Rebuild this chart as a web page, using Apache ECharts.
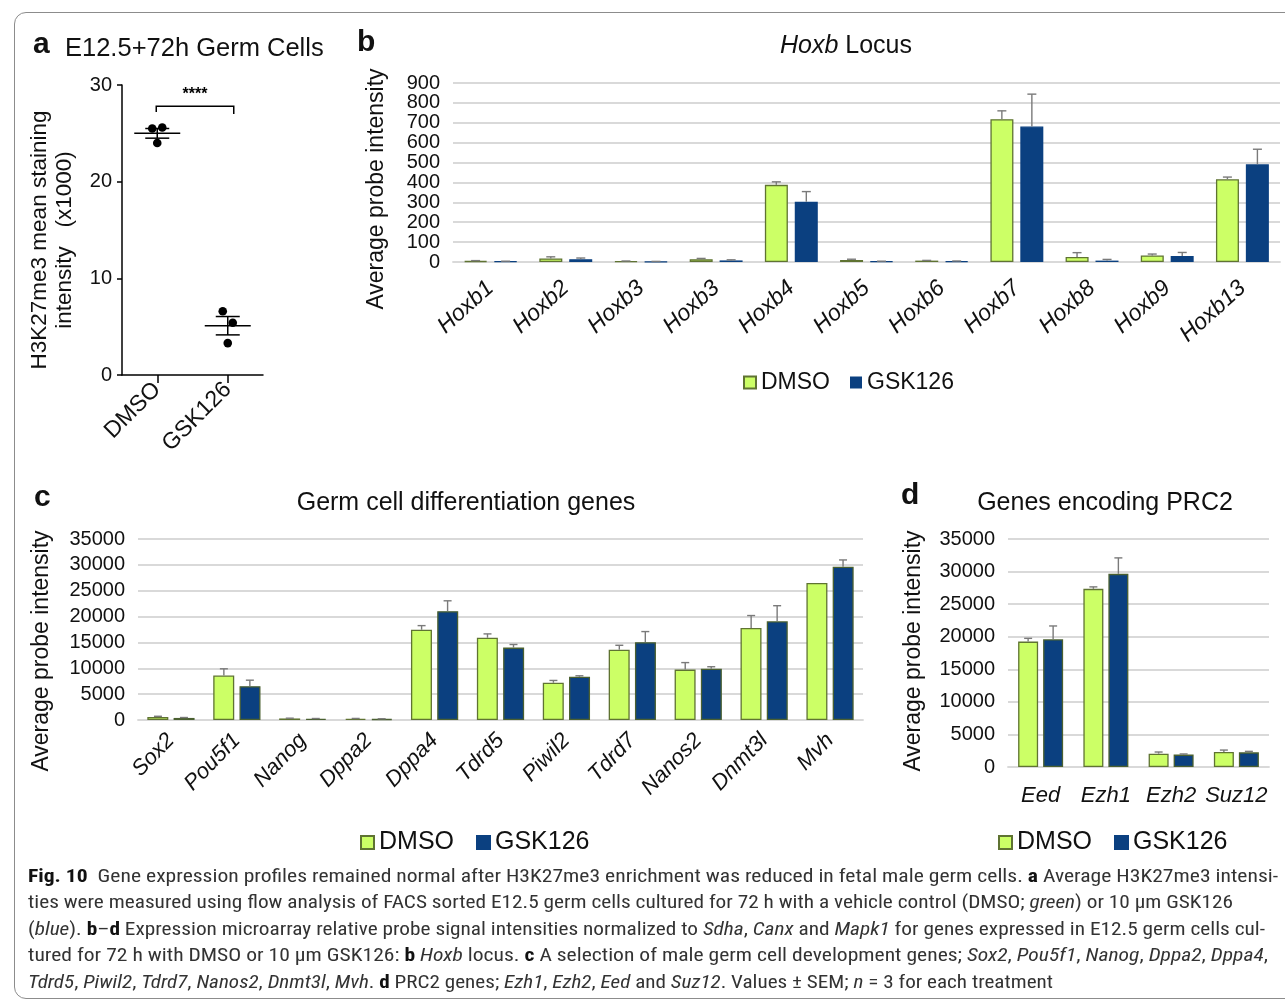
<!DOCTYPE html>
<html>
<head>
<meta charset="utf-8">
<script src="https://cdn.jsdelivr.net/npm/echarts/dist/echarts.min.js"></script>
<style>
  html, body { margin:0; padding:0; background:#fff; }
  #wrap { position:relative; width:1285px; height:1002px; overflow:hidden; }
  #frame { position:absolute; left:14px; top:12px; width:1290px; height:987px; border:1px solid #8c8c8c; border-radius:12px; box-sizing:border-box; }
  #chart { position:absolute; left:0; top:0; width:1285px; height:1002px; }
  .cap { position:absolute; left:28px; white-space:nowrap; font-family:"Liberation Sans Narrow","Roboto Condensed","Liberation Sans",sans-serif; font-size:18px; line-height:22px; color:#333; transform-origin:0 50%; }
  .cap b { font-weight:bold; color:#111; }
</style>
</head>
<body>
<div id="wrap">
  <div id="frame"></div>
  <div id="chart"></div>
  <div class="cap" data-end="1278" style="top:865px"><b>Fig. 10</b>&nbsp; Gene expression profiles remained normal after H3K27me3 enrichment was reduced in fetal male germ cells. <b>a</b> Average H3K27me3 intensi-</div>
  <div class="cap" data-end="1233" style="top:891px">ties were measured using flow analysis of FACS sorted E12.5 germ cells cultured for 72 h with a vehicle control (DMSO; <i>green</i>) or 10 µm GSK126</div>
  <div class="cap" data-end="1265" style="top:918px">(<i>blue</i>). <b>b</b>–<b>d</b> Expression microarray relative probe signal intensities normalized to <i>Sdha</i>, <i>Canx</i> and <i>Mapk1</i> for genes expressed in E12.5 germ cells cul-</div>
  <div class="cap" data-end="1268" style="top:944px">tured for 72 h with DMSO or 10 µm GSK126: <b>b</b> <i>Hoxb</i> locus. <b>c</b> A selection of male germ cell development genes; <i>Sox2</i>, <i>Pou5f1</i>, <i>Nanog</i>, <i>Dppa2</i>, <i>Dppa4</i>,</div>
  <div class="cap" data-end="1053" style="top:971px"><i>Tdrd5</i>, <i>Piwil2</i>, <i>Tdrd7</i>, <i>Nanos2</i>, <i>Dnmt3l</i>, <i>Mvh</i>. <b>d</b> PRC2 genes; <i>Ezh1</i>, <i>Ezh2</i>, <i>Eed</i> and <i>Suz12</i>. Values ± SEM; <i>n</i> = 3 for each treatment</div>
</div>
<script>
// ---------- DATA ----------
// Panel a
const groupsA = ['DMSO', 'GSK126'];
const pointsA_DMSO = [25.5, 25.6, 24.0];
const pointsA_GSK = [6.6, 5.4, 3.3];
const meanA = [25.0, 5.1];
const semA = [0.5, 0.95];
const sigBracketA = { from: 0, to: 1, top: 27.8, leftFoot: 27.2, rightFoot: 27.0, label: '****', labelY: 29.0 };
const yTicksA = { min: 0, max: 30, interval: 10 };

// Panel b — Hoxb locus
const hoxbGenes = ['Hoxb1', 'Hoxb2', 'Hoxb3', 'Hoxb3', 'Hoxb4', 'Hoxb5', 'Hoxb6', 'Hoxb7', 'Hoxb8', 'Hoxb9', 'Hoxb13'];
const hoxbDMSO    = [5, 18, 4, 14, 388, 10, 7, 718, 25, 33, 416];
const hoxbDMSOErr = [2, 8, 1, 4, 15, 4, 1, 42, 22, 7, 11];
const hoxbGSK     = [3, 14, 2, 8, 303, 3, 4, 681, 7, 30, 491];
const hoxbGSKErr  = [1, 6, 1, 3, 51, 1, 1, 163, 6, 18, 76];
const yTicksB = { min: 0, max: 900, interval: 100 };

// Panel c — germ cell differentiation genes
const germGenes = ['Sox2', 'Pou5f1', 'Nanog', 'Dppa2', 'Dppa4', 'Tdrd5', 'Piwil2', 'Tdrd7', 'Nanos2', 'Dnmt3l', 'Mvh'];
const germDMSO    = [600, 8600, 300, 250, 17450, 15900, 7200, 13600, 9750, 17800, 26500];
const germDMSOErr = [120, 1300, 50, 50, 800, 750, 450, 850, 1350, 2400, 0];
const germGSK     = [400, 6550, 250, 200, 21050, 14000, 8350, 15050, 9900, 19100, 29650];
const germGSKErr  = [80, 1150, 40, 40, 2000, 600, 200, 2050, 400, 3000, 1300];
const yTicksC = { min: 0, max: 35000, interval: 5000 };

// Panel d — PRC2 genes
const prc2Genes = ['Eed', 'Ezh1', 'Ezh2', 'Suz12'];
const prc2DMSO    = [19250, 27350, 2050, 2300];
const prc2DMSOErr = [500, 300, 250, 300];
const prc2GSK     = [19600, 29650, 1900, 2250];
const prc2GSKErr  = [2050, 2450, 100, 150];
const yTicksD = { min: 0, max: 35000, interval: 5000 };

const seriesNames = ['DMSO', 'GSK126'];

// ---------- STYLE ----------
const FONT = 'Liberation Sans, Arial, sans-serif';
const GREEN = '#CCFF66', GREEN_BORDER = '#5f7332';
const BLUE = '#0b4080', BLUE_BORDER_C = '#4a6030';
const GRID_COLOR = '#d9d9d9';
const ERR_COLOR = '#7a7a7a';
const TXT = '#111';

const chart = echarts.init(document.getElementById('chart'), null, { renderer: 'canvas' });

function errSeries(ax, vals, errs, offset, capW) {
  return {
    type: 'custom', xAxisIndex: ax, yAxisIndex: ax, z: 5, silent: true,
    encode: { x: 0, y: [1, 2] },
    data: vals.map((v, i) => [i, v, v + errs[i]]),
    renderItem: function (params, api) {
      const v = api.value(1), t = api.value(2);
      if (!(t > v)) return null;
      const p0 = api.coord([api.value(0), v]);
      const p1 = api.coord([api.value(0), t]);
      const x = p0[0] + offset;
      const st = { stroke: ERR_COLOR, lineWidth: 1.4 };
      return { type: 'group', children: [
        { type: 'line', shape: { x1: x, y1: p0[1], x2: x, y2: p1[1] }, style: st },
        { type: 'line', shape: { x1: x - capW / 2, y1: p1[1], x2: x + capW / 2, y2: p1[1] }, style: st }
      ] };
    }
  };
}

function barSeries(ax, name, vals, width, gap, blueBorder) {
  const green = name === 'DMSO';
  return {
    type: 'bar', name: name, xAxisIndex: ax, yAxisIndex: ax, data: vals,
    barWidth: width, barGap: gap, z: 2,
    itemStyle: { color: green ? GREEN : BLUE, borderColor: green ? GREEN_BORDER : blueBorder, borderWidth: 1.3 }
  };
}

function valueAxis(grid, ticks, fs) {
  return {
    type: 'value', gridIndex: grid, min: ticks.min, max: ticks.max, interval: ticks.interval,
    axisLine: { show: false }, axisTick: { show: false },
    axisLabel: { color: TXT, fontSize: fs, fontFamily: FONT, margin: 13, formatter: v => String(v) },
    splitLine: { show: true, lineStyle: { color: GRID_COLOR, width: 1.8 } }
  };
}
function catAxis(grid, cats, rot, fs, margin, italic) {
  return {
    type: 'category', gridIndex: grid, data: cats,
    axisLine: { show: true, lineStyle: { color: GRID_COLOR, width: 1.8 } },
    axisTick: { show: false },
    axisLabel: { color: TXT, fontSize: fs, fontFamily: FONT, rotate: rot, margin: margin, fontStyle: italic ? 'italic' : 'normal', interval: 0 }
  };
}

// Panel a custom series
const jitter = [-5, 5, 0];
const pointsSeries = {
  type: 'custom', xAxisIndex: 0, yAxisIndex: 0, z: 5, silent: true,
  data: pointsA_DMSO.map((v, k) => [0, v, k]).concat(pointsA_GSK.map((v, k) => [1, v, k])),
  renderItem: function (params, api) {
    const p = api.coord([api.value(0), api.value(1)]);
    return { type: 'circle', shape: { cx: p[0] + jitter[api.value(2)], cy: p[1], r: 4.3 }, style: { fill: '#000' } };
  }
};
const meanSeries = {
  type: 'custom', xAxisIndex: 0, yAxisIndex: 0, z: 4, silent: true,
  data: meanA.map((m, i) => [i, m, m - semA[i], m + semA[i]]),
  renderItem: function (params, api) {
    const c = api.coord([api.value(0), api.value(1)]);
    const lo = api.coord([api.value(0), api.value(2)]);
    const hi = api.coord([api.value(0), api.value(3)]);
    const st = { stroke: '#000', lineWidth: 1.5 };
    return { type: 'group', children: [
      { type: 'line', shape: { x1: c[0] - 23, y1: c[1], x2: c[0] + 23, y2: c[1] }, style: st },
      { type: 'line', shape: { x1: c[0] - 12, y1: lo[1], x2: c[0] + 12, y2: lo[1] }, style: st },
      { type: 'line', shape: { x1: c[0] - 12, y1: hi[1], x2: c[0] + 12, y2: hi[1] }, style: st },
      { type: 'line', shape: { x1: c[0], y1: lo[1], x2: c[0], y2: hi[1] }, style: st }
    ] };
  }
};
const bracketSeries = {
  type: 'custom', xAxisIndex: 0, yAxisIndex: 0, z: 4, silent: true,
  data: [[sigBracketA.from, sigBracketA.to, sigBracketA.top, sigBracketA.leftFoot, sigBracketA.rightFoot, sigBracketA.labelY]],
  renderItem: function (params, api) {
    const a = api.coord([api.value(0), api.value(2)]);
    const b = api.coord([api.value(1), api.value(2)]);
    const af = api.coord([api.value(0), api.value(3)]);
    const bf = api.coord([api.value(1), api.value(4)]);
    const lab = api.coord([api.value(0), api.value(5)]);
    const xl = a[0] - 1, xr = b[0] + 6;
    return { type: 'group', children: [
      { type: 'polyline', shape: { points: [[xl, af[1]], [xl, a[1]], [xr, a[1]], [xr, bf[1]]] }, style: { stroke: '#000', lineWidth: 1.5, fill: null } },
      { type: 'text', style: { text: sigBracketA.label, x: (xl + xr) / 2, y: lab[1], align: 'center', verticalAlign: 'middle', font: 'bold 16px ' + FONT, fill: '#000' } }
    ] };
  }
};

const option = {
  animation: false,
  textStyle: { fontFamily: FONT },
  grid: [
    { left: 122, top: 85, width: 141, height: 290, outerBoundsMode: 'none' },
    { left: 453, top: 83, width: 827, height: 179, outerBoundsMode: 'none' },
    { left: 138, top: 539, width: 725, height: 181, outerBoundsMode: 'none' },
    { left: 1008, top: 539, width: 261, height: 228, outerBoundsMode: 'none' }
  ],
  xAxis: [
    {
      type: 'category', gridIndex: 0, data: groupsA,
      axisLine: { show: true, lineStyle: { color: '#000', width: 1.5 } },
      axisTick: { show: true, alignWithLabel: true, length: 8, lineStyle: { color: '#000', width: 1.5 } },
      axisLabel: { color: TXT, fontSize: 23, fontFamily: FONT, rotate: 45, margin: 11 }
    },
    catAxis(1, hoxbGenes, 42, 23, 23, true),
    catAxis(2, germGenes, 46, 22, 17, true),
    catAxis(3, prc2Genes, 0, 22, 18, true)
  ],
  yAxis: [
    {
      type: 'value', gridIndex: 0, min: yTicksA.min, max: yTicksA.max, interval: yTicksA.interval,
      axisLine: { show: true, lineStyle: { color: '#000', width: 1.5 } },
      axisTick: { show: true, length: 5, lineStyle: { color: '#000', width: 1.5 } },
      axisLabel: { color: TXT, fontSize: 20, fontFamily: FONT, margin: 10 },
      splitLine: { show: false }
    },
    valueAxis(1, yTicksB, 20),
    valueAxis(2, yTicksC, 20),
    valueAxis(3, yTicksD, 20)
  ],
  legend: [
    { data: [{ name: 'DMSO' }, { name: 'GSK126', itemStyle: { borderWidth: 0 } }], left: 738, top: 366, itemWidth: 12, itemHeight: 12, itemGap: 20, icon: 'rect',
      textStyle: { fontSize: 23, color: TXT, fontFamily: FONT }, selectedMode: false },
    { data: seriesNames, left: 355, top: 825, itemWidth: 13, itemHeight: 13, itemGap: 22, icon: 'rect',
      textStyle: { fontSize: 25, color: TXT, fontFamily: FONT }, selectedMode: false },
    { data: seriesNames, left: 993, top: 825, itemWidth: 13, itemHeight: 13, itemGap: 22, icon: 'rect',
      textStyle: { fontSize: 25, color: TXT, fontFamily: FONT }, selectedMode: false }
  ],
  graphic: [
    { type: 'text', left: 33, top: 30, style: { text: 'a', font: 'bold 30px ' + FONT, fill: '#111' } },
    { type: 'text', left: 65, top: 36, style: { text: 'E12.5+72h Germ Cells', font: '25.5px ' + FONT, fill: '#111' } },
    { type: 'text', x: 52, y: 240, rotation: Math.PI / 2,
      style: { text: 'H3K27me3 mean staining\nintensity   (x1000)', font: '22.5px ' + FONT, fill: '#111', align: 'center', verticalAlign: 'middle', lineHeight: 25 } },

    { type: 'text', left: 357, top: 28, style: { text: 'b', font: 'bold 30px ' + FONT, fill: '#111' } },
    { type: 'text', x: 846, y: 46, style: { text: '{i|Hoxb} Locus', font: '25px ' + FONT, fill: '#111', align: 'center', verticalAlign: 'middle',
      rich: { i: { fontStyle: 'italic', fontSize: 25, fontFamily: FONT, fill: '#111' } } } },
    { type: 'text', x: 377, y: 189, rotation: Math.PI / 2,
      style: { text: 'Average probe intensity', font: '23px ' + FONT, fill: '#111', align: 'center', verticalAlign: 'middle' } },

    { type: 'text', left: 34, top: 483, style: { text: 'c', font: 'bold 30px ' + FONT, fill: '#111' } },
    { type: 'text', x: 466, y: 503, style: { text: 'Germ cell differentiation genes', font: '25px ' + FONT, fill: '#111', align: 'center', verticalAlign: 'middle' } },
    { type: 'text', x: 42, y: 651, rotation: Math.PI / 2,
      style: { text: 'Average probe intensity', font: '23px ' + FONT, fill: '#111', align: 'center', verticalAlign: 'middle' } },

    { type: 'text', left: 901, top: 481, style: { text: 'd', font: 'bold 30px ' + FONT, fill: '#111' } },
    { type: 'text', x: 1105, y: 503, style: { text: 'Genes encoding PRC2', font: '25px ' + FONT, fill: '#111', align: 'center', verticalAlign: 'middle' } },
    { type: 'text', x: 914, y: 651, rotation: Math.PI / 2,
      style: { text: 'Average probe intensity', font: '23px ' + FONT, fill: '#111', align: 'center', verticalAlign: 'middle' } }
  ],
  series: [
    meanSeries, pointsSeries, bracketSeries,
    barSeries(1, 'DMSO', hoxbDMSO, 23, '30%', BLUE),
    barSeries(1, 'GSK126', hoxbGSK, 23, '30%', BLUE),
    errSeries(1, hoxbDMSO, hoxbDMSOErr, -15, 9),
    errSeries(1, hoxbGSK, hoxbGSKErr, 15, 9),
    barSeries(2, 'DMSO', germDMSO, 21, '25%', BLUE_BORDER_C),
    barSeries(2, 'GSK126', germGSK, 21, '25%', BLUE_BORDER_C),
    errSeries(2, germDMSO, germDMSOErr, -13, 8),
    errSeries(2, germGSK, germGSKErr, 13, 8),
    barSeries(3, 'DMSO', prc2DMSO, 20, '25%', BLUE_BORDER_C),
    barSeries(3, 'GSK126', prc2GSK, 20, '25%', BLUE_BORDER_C),
    errSeries(3, prc2DMSO, prc2DMSOErr, -12.5, 8),
    errSeries(3, prc2GSK, prc2GSKErr, 12.5, 8)
  ]
};
chart.setOption(option);

// fit caption lines to their widths in the reference
document.querySelectorAll('.cap').forEach(el => {
  const w = el.getBoundingClientRect().width;
  const target = parseFloat(el.dataset.end) - 28;
  el.style.transform = 'scaleX(' + (target / w).toFixed(4) + ')';
});
</script>
</body>
</html>
